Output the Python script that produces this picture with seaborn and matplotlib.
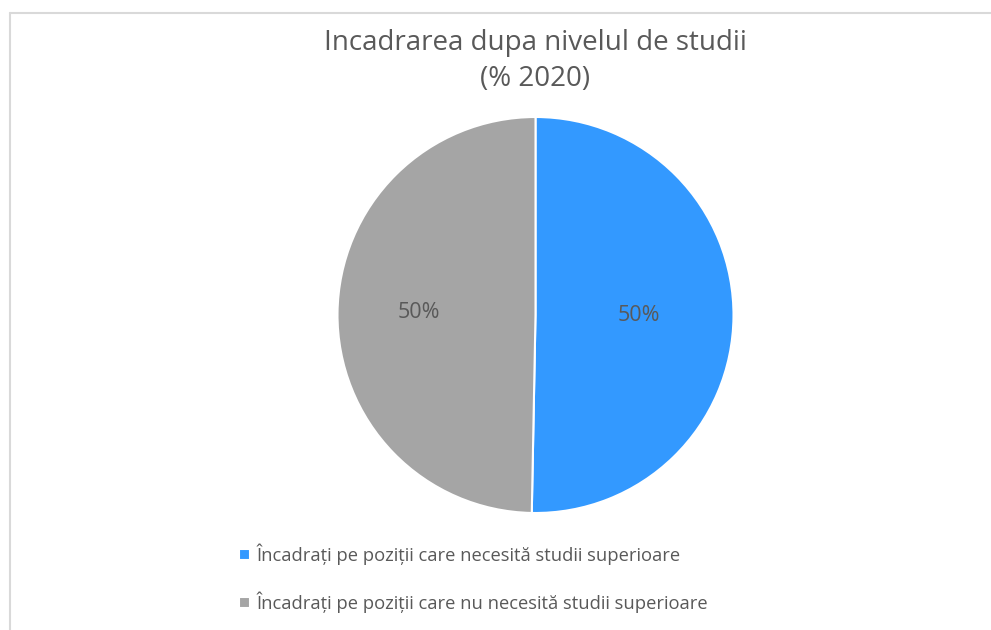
import matplotlib
matplotlib.use("Agg")
import matplotlib.pyplot as plt
import matplotlib.lines as mlines
import matplotlib.transforms as mtransforms
import seaborn as sns

# date
categorii = ["Încadrați pe poziții care necesită studii superioare",
             "Încadrați pe poziții care nu necesită studii superioare"]
procente = [50.3, 49.7]
culori = ["#3399FF", "#A5A5A5"]
titlu = "Incadrarea dupa nivelul de studii\n(% 2020)"

sns.set_theme(style="white")
plt.rcParams['font.family'] = ['Open Sans', 'DejaVu Sans']
text_color = "#595959"

W, H = 991, 630
fig = plt.figure(figsize=(W / 100, H / 100), dpi=100)

# chenarul graficului (doar stanga si sus sunt vizibile)
x0, y0 = 9.5 / W, 1 - 12.5 / H
fig.lines.append(mlines.Line2D([x0, x0], [-0.05, y0], transform=fig.transFigure,
                               color="#D9D9D9", linewidth=1.5))
fig.lines.append(mlines.Line2D([x0, 1.05], [y0, y0], transform=fig.transFigure,
                               color="#D9D9D9", linewidth=1.5))

cx, cy, r = 535.5, 315, 198
ax = fig.add_axes([(cx - r) / W, (H - cy - r) / H, 2 * r / W, 2 * r / H])
wedges, _, autotexts = ax.pie(procente, colors=culori, startangle=90, counterclock=False,
                              autopct=lambda p: f"{p:.0f}%", pctdistance=0.555,
                              wedgeprops=dict(edgecolor="white", linewidth=1.5),
                              textprops=dict(color=text_color, fontsize=15.5))
shift = mtransforms.ScaledTranslation(-7 / 100, 1 / 100, fig.dpi_scale_trans)
for t in autotexts:
    t.set_transform(t.get_transform() + shift)
ax.set_xlim(-1, 1)
ax.set_ylim(-1, 1)
ax.set_aspect("equal")
ax.axis("off")

fig.text(cx / W, 1 - 61 / H, titlu, ha="center", va="center", fontsize=20,
         color=text_color, linespacing=1.42)

leg = fig.legend(wedges, categorii, loc="upper left", bbox_to_anchor=(222 / W, 1 - 527 / H),
                 frameon=False, fontsize=13.2, labelcolor=text_color,
                 handlelength=0.6, handleheight=0.6, handletextpad=0.4, labelspacing=1.45)

fig.savefig("out.png", dpi=100)
